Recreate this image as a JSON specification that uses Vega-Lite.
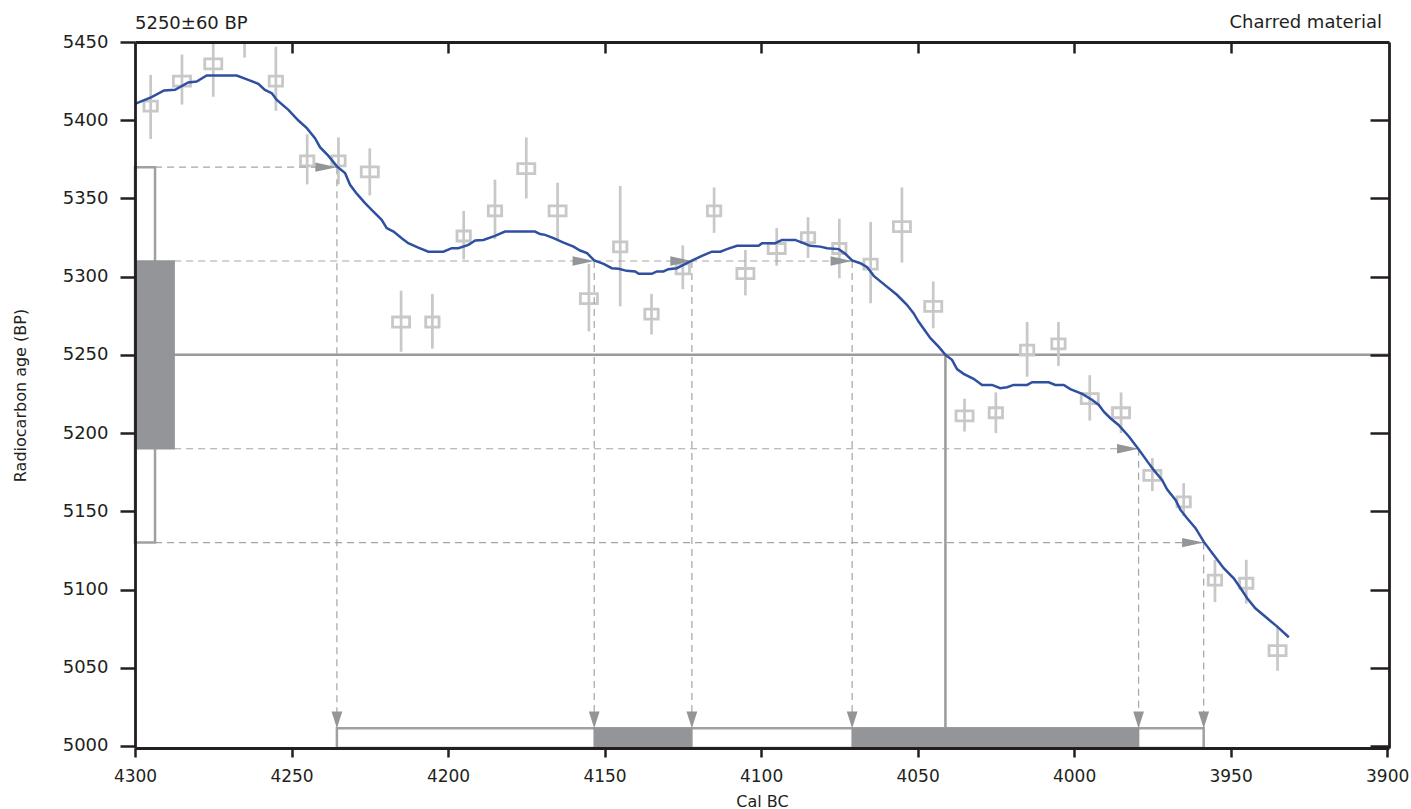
{
  "$schema": "https://vega.github.io/schema/vega-lite/v6.json",
  "width": 1254,
  "height": 706,
  "autosize": "none",
  "padding": {"left": 135, "top": 42, "right": 22, "bottom": 61},
  "background": "#ffffff",
  "config": {"view": {"stroke": null}},
  "datasets": {
    "curve": [
      {"cal": 4300, "bp": 5410.5}, {"cal": 4294.7, "bp": 5414.8}, {"cal": 4290.7, "bp": 5419.0}, {"cal": 4287.2, "bp": 5419.4},
      {"cal": 4283.0, "bp": 5424.1}, {"cal": 4280.3, "bp": 5424.7}, {"cal": 4277.1, "bp": 5428.6}, {"cal": 4267.5, "bp": 5428.6},
      {"cal": 4263.8, "bp": 5425.8}, {"cal": 4260.6, "bp": 5423.3}, {"cal": 4258.5, "bp": 5419.4}, {"cal": 4256.3, "bp": 5417.3},
      {"cal": 4254.7, "bp": 5413.0}, {"cal": 4251.0, "bp": 5406.6}, {"cal": 4247.8, "bp": 5399.8}, {"cal": 4245.1, "bp": 5394.9},
      {"cal": 4242.5, "bp": 5388.5}, {"cal": 4240.9, "bp": 5382.8}, {"cal": 4238.2, "bp": 5377.2}, {"cal": 4235.5, "bp": 5370.5},
      {"cal": 4232.9, "bp": 5366.2}, {"cal": 4231.3, "bp": 5358.7}, {"cal": 4229.1, "bp": 5352.9}, {"cal": 4226.5, "bp": 5347.0},
      {"cal": 4224.4, "bp": 5342.7}, {"cal": 4221.2, "bp": 5336.3}, {"cal": 4219.6, "bp": 5331.0}, {"cal": 4217.4, "bp": 5328.8},
      {"cal": 4214.8, "bp": 5324.6}, {"cal": 4212.7, "bp": 5321.4}, {"cal": 4209.5, "bp": 5318.6}, {"cal": 4206.3, "bp": 5316.0},
      {"cal": 4201.5, "bp": 5316.0}, {"cal": 4198.8, "bp": 5318.2}, {"cal": 4196.7, "bp": 5318.2}, {"cal": 4193.5, "bp": 5320.3},
      {"cal": 4191.3, "bp": 5323.1}, {"cal": 4188.7, "bp": 5323.5}, {"cal": 4185.0, "bp": 5326.1}, {"cal": 4181.8, "bp": 5328.8},
      {"cal": 4172.2, "bp": 5328.8}, {"cal": 4170.6, "bp": 5327.2}, {"cal": 4169.0, "bp": 5326.7}, {"cal": 4166.3, "bp": 5324.6},
      {"cal": 4163.1, "bp": 5321.8}, {"cal": 4159.9, "bp": 5319.2}, {"cal": 4157.8, "bp": 5316.7}, {"cal": 4155.6, "bp": 5315.0},
      {"cal": 4153.3, "bp": 5310.4}, {"cal": 4150.3, "bp": 5308.2}, {"cal": 4147.7, "bp": 5305.4}, {"cal": 4145.5, "bp": 5305.0},
      {"cal": 4142.9, "bp": 5303.7}, {"cal": 4140.2, "bp": 5303.3}, {"cal": 4139.1, "bp": 5301.8}, {"cal": 4134.9, "bp": 5301.8},
      {"cal": 4133.3, "bp": 5303.3}, {"cal": 4131.2, "bp": 5303.3}, {"cal": 4129.6, "bp": 5304.8}, {"cal": 4126.9, "bp": 5305.4},
      {"cal": 4124.8, "bp": 5307.5}, {"cal": 4122.1, "bp": 5310.2}, {"cal": 4118.9, "bp": 5313.3}, {"cal": 4115.7, "bp": 5316.0},
      {"cal": 4113.0, "bp": 5316.0}, {"cal": 4110.9, "bp": 5317.6}, {"cal": 4107.7, "bp": 5319.7}, {"cal": 4100.8, "bp": 5319.7},
      {"cal": 4099.7, "bp": 5321.4}, {"cal": 4095.5, "bp": 5321.4}, {"cal": 4093.3, "bp": 5323.5}, {"cal": 4089.1, "bp": 5323.5},
      {"cal": 4086.9, "bp": 5321.8}, {"cal": 4084.3, "bp": 5319.7}, {"cal": 4081.1, "bp": 5319.2}, {"cal": 4078.9, "bp": 5318.2},
      {"cal": 4075.2, "bp": 5317.6}, {"cal": 4073.1, "bp": 5314.6}, {"cal": 4070.9, "bp": 5310.4}, {"cal": 4068.3, "bp": 5308.6},
      {"cal": 4066.1, "bp": 5306.1}, {"cal": 4064.0, "bp": 5300.5}, {"cal": 4060.9, "bp": 5295.4}, {"cal": 4056.6, "bp": 5288.4},
      {"cal": 4055.5, "bp": 5286.2}, {"cal": 4053.4, "bp": 5282.0}, {"cal": 4051.3, "bp": 5276.7}, {"cal": 4049.7, "bp": 5271.3},
      {"cal": 4045.9, "bp": 5260.7}, {"cal": 4043.3, "bp": 5255.3}, {"cal": 4041.1, "bp": 5250.0}, {"cal": 4039.0, "bp": 5246.8},
      {"cal": 4037.4, "bp": 5240.9}, {"cal": 4035.3, "bp": 5237.9}, {"cal": 4032.1, "bp": 5234.7}, {"cal": 4029.4, "bp": 5230.8},
      {"cal": 4026.2, "bp": 5230.8}, {"cal": 4023.6, "bp": 5228.7}, {"cal": 4021.4, "bp": 5229.3}, {"cal": 4019.3, "bp": 5230.8},
      {"cal": 4015.0, "bp": 5230.8}, {"cal": 4013.4, "bp": 5232.5}, {"cal": 4008.1, "bp": 5232.5}, {"cal": 4006.0, "bp": 5230.8},
      {"cal": 4003.3, "bp": 5230.8}, {"cal": 4001.2, "bp": 5228.1}, {"cal": 3997.4, "bp": 5225.1}, {"cal": 3994.2, "bp": 5221.2},
      {"cal": 3992.1, "bp": 5218.0}, {"cal": 3990.5, "bp": 5213.7}, {"cal": 3988.4, "bp": 5209.5}, {"cal": 3985.8, "bp": 5205.2},
      {"cal": 3982.5, "bp": 5197.8}, {"cal": 3979.4, "bp": 5189.6}, {"cal": 3976.2, "bp": 5180.8}, {"cal": 3974.6, "bp": 5176.5},
      {"cal": 3971.9, "bp": 5170.1}, {"cal": 3970.3, "bp": 5164.1}, {"cal": 3967.6, "bp": 5157.3}, {"cal": 3966.0, "bp": 5150.9},
      {"cal": 3963.9, "bp": 5145.6}, {"cal": 3961.2, "bp": 5139.2}, {"cal": 3958.6, "bp": 5130.6}, {"cal": 3955.4, "bp": 5122.1},
      {"cal": 3952.2, "bp": 5113.6}, {"cal": 3949.0, "bp": 5107.2}, {"cal": 3946.8, "bp": 5100.8}, {"cal": 3944.7, "bp": 5094.4},
      {"cal": 3942.1, "bp": 5088.0}, {"cal": 3938.3, "bp": 5081.6}, {"cal": 3935.1, "bp": 5076.3}, {"cal": 3931.4, "bp": 5069.5}
    ],
    "obs": [
      {"cal": 4295, "bp": 5409, "lo": 5388, "hi": 5429, "block": "n"},
      {"cal": 4285, "bp": 5425, "lo": 5410, "hi": 5442, "block": "w"},
      {"cal": 4275, "bp": 5436, "lo": 5415, "hi": 5457, "block": "w"},
      {"cal": 4265, "bp": 5455, "lo": 5440, "hi": 5470, "block": "n"},
      {"cal": 4255, "bp": 5425, "lo": 5406, "hi": 5447, "block": "n"},
      {"cal": 4245, "bp": 5374, "lo": 5359, "hi": 5391, "block": "n"},
      {"cal": 4235, "bp": 5374, "lo": 5359, "hi": 5389, "block": "n"},
      {"cal": 4225, "bp": 5367, "lo": 5352, "hi": 5382, "block": "w"},
      {"cal": 4215, "bp": 5271, "lo": 5252, "hi": 5291, "block": "w"},
      {"cal": 4205, "bp": 5271, "lo": 5254, "hi": 5289, "block": "n"},
      {"cal": 4195, "bp": 5326, "lo": 5311, "hi": 5342, "block": "n"},
      {"cal": 4185, "bp": 5342, "lo": 5324, "hi": 5362, "block": "n"},
      {"cal": 4175, "bp": 5369, "lo": 5350, "hi": 5389, "block": "w"},
      {"cal": 4165, "bp": 5342, "lo": 5324, "hi": 5360, "block": "w"},
      {"cal": 4155, "bp": 5286, "lo": 5265, "hi": 5308, "block": "w"},
      {"cal": 4145, "bp": 5319, "lo": 5281, "hi": 5358, "block": "n"},
      {"cal": 4135, "bp": 5276, "lo": 5263, "hi": 5289, "block": "n"},
      {"cal": 4125, "bp": 5305, "lo": 5292, "hi": 5320, "block": "n"},
      {"cal": 4115, "bp": 5342, "lo": 5328, "hi": 5357, "block": "n"},
      {"cal": 4105, "bp": 5302, "lo": 5288, "hi": 5317, "block": "w"},
      {"cal": 4095, "bp": 5318, "lo": 5307, "hi": 5331, "block": "w"},
      {"cal": 4085, "bp": 5325, "lo": 5312, "hi": 5338, "block": "n"},
      {"cal": 4075, "bp": 5318, "lo": 5299, "hi": 5337, "block": "n"},
      {"cal": 4065, "bp": 5308, "lo": 5283, "hi": 5335, "block": "n"},
      {"cal": 4055, "bp": 5332, "lo": 5309, "hi": 5357, "block": "w"},
      {"cal": 4045, "bp": 5281, "lo": 5267, "hi": 5297, "block": "w"},
      {"cal": 4035, "bp": 5211, "lo": 5201, "hi": 5222, "block": "w"},
      {"cal": 4025, "bp": 5213, "lo": 5200, "hi": 5226, "block": "n"},
      {"cal": 4015, "bp": 5253, "lo": 5236, "hi": 5271, "block": "n"},
      {"cal": 4005, "bp": 5257, "lo": 5243, "hi": 5271, "block": "n"},
      {"cal": 3995, "bp": 5222, "lo": 5208, "hi": 5237, "block": "w"},
      {"cal": 3985, "bp": 5213, "lo": 5200, "hi": 5226, "block": "w"},
      {"cal": 3975, "bp": 5173, "lo": 5163, "hi": 5184, "block": "w"},
      {"cal": 3965, "bp": 5156, "lo": 5147, "hi": 5168, "block": "n"},
      {"cal": 3955, "bp": 5106, "lo": 5092, "hi": 5119, "block": "n"},
      {"cal": 3945, "bp": 5104, "lo": 5091, "hi": 5119, "block": "n"},
      {"cal": 3935, "bp": 5061, "lo": 5048, "hi": 5076, "block": "w"}
    ],
    "hdash": [
      {"bp": 5370, "from": 4293.6, "to": 4235.5},
      {"bp": 5310, "from": 4287.5, "to": 4070.9},
      {"bp": 5190, "from": 4287.5, "to": 3979.4},
      {"bp": 5130, "from": 4293.6, "to": 3958.6}
    ],
    "cross": [
      {"cal": 4235.5, "bp": 5370},
      {"cal": 4153.3, "bp": 5310},
      {"cal": 4122.1, "bp": 5310},
      {"cal": 4070.9, "bp": 5310},
      {"cal": 3979.4, "bp": 5190},
      {"cal": 3958.6, "bp": 5130}
    ],
    "calrange": [
      {"from": 4153.3, "to": 4122.1},
      {"from": 4070.9, "to": 3979.4}
    ]
  },
  "resolve": {"axis": {"x": "independent", "y": "independent"}},
  "layer": [
    {
      "data": {"values": [{"bp": 5250, "from": 4300, "to": 3899.4}]},
      "mark": {"type": "rule", "color": "#9a9a9a", "strokeWidth": 2.5},
      "encoding": {
        "x": {"field": "from", "type": "quantitative",
              "scale": {"domain": [3899.4, 4300], "reverse": true, "nice": false, "zero": false},
              "axis": {"orient": "top", "values": [4250, 4200, 4150, 4100, 4050, 4000, 3950], "tickSize": -11, "tickWidth": 2.5, "tickColor": "#231f20", "domainColor": "#231f20", "domainWidth": 2.8, "labels": false, "title": null, "grid": false, "zindex": 2}},
        "x2": {"field": "to"},
        "y": {"field": "bp", "type": "quantitative",
              "scale": {"domain": [4998.7, 5450], "nice": false, "zero": false},
              "axis": {"orient": "right", "values": [5000, 5050, 5100, 5150, 5200, 5250, 5300, 5350, 5400], "tickSize": -19, "tickWidth": 2.5, "tickColor": "#231f20", "domainColor": "#231f20", "domainWidth": 2.8, "labels": false, "title": null, "grid": false, "zindex": 2}}
      }
    },
    {
      "data": {"values": [{"cal": 4041.1, "from": 5250, "to": 4998.7}]},
      "mark": {"type": "rule", "color": "#9a9a9a", "strokeWidth": 2.5},
      "encoding": {
        "x": {"field": "cal", "type": "quantitative", "axis": null},
        "y": {"field": "from", "type": "quantitative", "axis": null},
        "y2": {"field": "to"}
      }
    },
    {
      "data": {"name": "obs"},
      "mark": {"type": "rule", "color": "#c8c8c8", "strokeWidth": 2.7, "clip": true},
      "encoding": {
        "x": {"field": "cal", "type": "quantitative", "axis": null},
        "y": {"field": "lo", "type": "quantitative", "axis": null},
        "y2": {"field": "hi"}
      }
    },
    {
      "data": {"name": "obs"},
      "mark": {"type": "point", "filled": false, "stroke": "#c8c8c8", "strokeWidth": 2.8, "opacity": 1, "size": 178, "clip": true},
      "encoding": {
        "x": {"field": "cal", "type": "quantitative", "axis": null},
        "y": {"field": "bp", "type": "quantitative", "axis": null},
        "shape": {"field": "block", "type": "nominal", "legend": null,
                  "scale": {"domain": ["n", "w"], "range": ["M-1,-0.75H1V0.75H-1Z", "M-1.28,-0.75H1.28V0.75H-1.28Z"]}}
      }
    },
    {
      "data": {"name": "hdash"},
      "mark": {"type": "rule", "color": "#a5a5a5", "strokeWidth": 1.2, "strokeDash": [7, 5]},
      "encoding": {
        "x": {"field": "from", "type": "quantitative", "axis": null},
        "x2": {"field": "to"},
        "y": {"field": "bp", "type": "quantitative", "axis": null}
      }
    },
    {
      "data": {"name": "cross"},
      "mark": {"type": "rule", "color": "#a5a5a5", "strokeWidth": 1.2, "strokeDash": [7, 5]},
      "encoding": {
        "x": {"field": "cal", "type": "quantitative", "axis": null},
        "y": {"field": "bp", "type": "quantitative", "axis": null},
        "y2": {"datum": 5011.3}
      }
    },
    {
      "data": {"values": [{"from": 4300, "to": 4293.6, "lo": 5130, "hi": 5370}]},
      "mark": {"type": "rect", "fill": "#ffffff", "fillOpacity": 0, "stroke": "#a0a0a0", "strokeWidth": 2.5},
      "encoding": {
        "x": {"field": "from", "type": "quantitative", "axis": null},
        "x2": {"field": "to"},
        "y": {"field": "lo", "type": "quantitative", "axis": null},
        "y2": {"field": "hi"}
      }
    },
    {
      "data": {"values": [{"from": 4300, "to": 4287.5, "lo": 5190, "hi": 5310}]},
      "mark": {"type": "rect", "fill": "#939598", "stroke": "#939598", "strokeWidth": 1.5},
      "encoding": {
        "x": {"field": "from", "type": "quantitative", "axis": null},
        "x2": {"field": "to"},
        "y": {"field": "lo", "type": "quantitative", "axis": null},
        "y2": {"field": "hi"}
      }
    },
    {
      "data": {"values": [{"from": 4235.5, "to": 3958.6, "lo": 4998.7, "hi": 5011.3}]},
      "mark": {"type": "rect", "fill": "#ffffff", "fillOpacity": 0, "stroke": "#a0a0a0", "strokeWidth": 2.5},
      "encoding": {
        "x": {"field": "from", "type": "quantitative", "axis": null},
        "x2": {"field": "to"},
        "y": {"field": "lo", "type": "quantitative", "axis": null},
        "y2": {"field": "hi"}
      }
    },
    {
      "data": {"name": "calrange"},
      "mark": {"type": "rect", "fill": "#939598", "stroke": "#939598", "strokeWidth": 1.5},
      "encoding": {
        "x": {"field": "from", "type": "quantitative", "axis": null},
        "x2": {"field": "to"},
        "y": {"datum": 4998.7, "type": "quantitative", "axis": null},
        "y2": {"datum": 5011.3}
      }
    },
    {
      "data": {"name": "cross"},
      "mark": {"type": "point", "shape": "M0,0L-2,-0.43L-2,0.43Z", "filled": true, "fill": "#939598", "strokeWidth": 0, "opacity": 1, "size": 466},
      "encoding": {
        "x": {"field": "cal", "type": "quantitative", "axis": null},
        "y": {"field": "bp", "type": "quantitative", "axis": null}
      }
    },
    {
      "data": {"name": "cross"},
      "mark": {"type": "point", "shape": "M0,0L-0.5,-1.55L0.5,-1.55Z", "filled": true, "fill": "#939598", "strokeWidth": 0, "opacity": 1, "size": 466},
      "encoding": {
        "x": {"field": "cal", "type": "quantitative", "axis": null},
        "y": {"datum": 5011.3, "type": "quantitative", "axis": null}
      }
    },
    {
      "data": {"name": "curve"},
      "mark": {"type": "line", "color": "#2f4fa0", "strokeWidth": 2.5},
      "encoding": {
        "x": {"field": "cal", "type": "quantitative",
              "axis": {"orient": "bottom", "values": [4300, 4250, 4200, 4150, 4100, 4050, 4000, 3950, 3900], "format": "d", "tickSize": 9, "tickWidth": 2.5, "tickColor": "#231f20", "domainColor": "#231f20", "domainWidth": 2.8, "labelFont": "DejaVu Sans", "labelFontSize": 17, "labelColor": "#231f20", "labelPadding": 11, "labelFlush": false, "labelOverlap": false, "labelBound": false, "grid": false, "title": "Cal BC", "titleFont": "DejaVu Sans", "titleFontSize": 16, "titleFontWeight": "normal", "titleColor": "#231f20", "titleBaseline": "alphabetic", "titleY": 58, "titleX": 627, "titleAnchor": null, "titleAlign": "center", "zindex": 2}},
        "y": {"field": "bp", "type": "quantitative",
              "axis": {"orient": "left", "values": [5000, 5050, 5100, 5150, 5200, 5250, 5300, 5350, 5400, 5450], "format": "d", "tickSize": 15, "tickWidth": 2.5, "tickColor": "#231f20", "domainColor": "#231f20", "domainWidth": 2.8, "labelFont": "DejaVu Sans", "labelFontSize": 18, "labelColor": "#231f20", "labelPadding": 12, "labelFlush": false, "labelOverlap": false, "labelBound": false, "grid": false, "title": "Radiocarbon age (BP)", "titleFont": "DejaVu Sans", "titleFontSize": 16, "titleFontWeight": "normal", "titleColor": "#231f20", "titleAngle": 270, "titleBaseline": "alphabetic", "titleAlign": "center", "titleX": -110, "titleY": 353, "zindex": 2}}
      }
    },
    {
      "data": {"values": [{"label": "5250±60 BP"}]},
      "mark": {"type": "text", "align": "left", "baseline": "alphabetic", "dy": -13, "font": "DejaVu Sans", "fontSize": 18, "color": "#231f20"},
      "encoding": {
        "x": {"datum": 4300, "type": "quantitative", "axis": null},
        "y": {"datum": 5450, "type": "quantitative", "axis": null},
        "text": {"field": "label"}
      }
    },
    {
      "data": {"values": [{"label": "Charred material"}]},
      "mark": {"type": "text", "align": "right", "baseline": "alphabetic", "dy": -14, "dx": -7, "font": "DejaVu Sans", "fontSize": 18, "color": "#231f20"},
      "encoding": {
        "x": {"datum": 3899.4, "type": "quantitative", "axis": null},
        "y": {"datum": 5450, "type": "quantitative", "axis": null},
        "text": {"field": "label"}
      }
    }
  ]
}
